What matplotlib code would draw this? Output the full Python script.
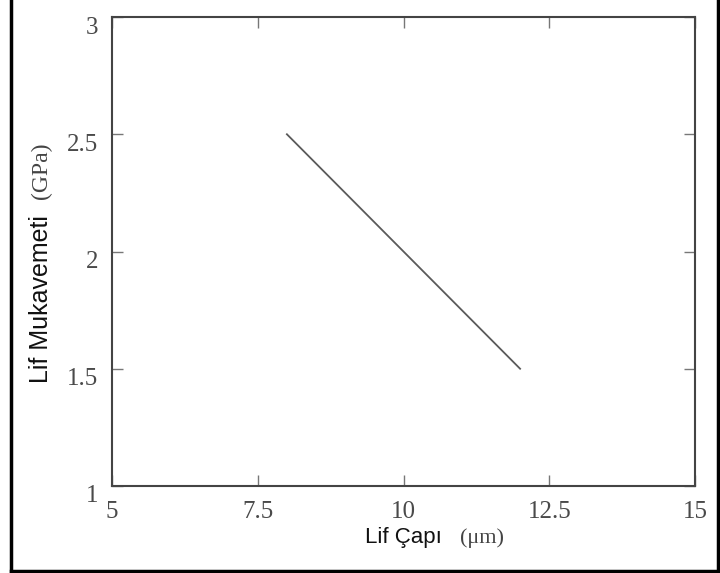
import matplotlib
matplotlib.use('Agg')
import matplotlib.pyplot as plt
import matplotlib.transforms as mtransforms
from matplotlib.lines import Line2D

# fiber diameter (um) vs fiber strength (GPa)
diameter = [8, 12]
strength = [2.5, 1.5]

xticks = [5, 7.5, 10, 12.5, 15]
xticklabels = ['5', '7.5', '10', '12.5', '15']
yticks = [1, 1.5, 2, 2.5, 3]
yticklabels = ['1', '1.5', '2', '2.5', '3']

serif = 'Liberation Serif'
sans = 'Liberation Sans'

fig = plt.figure(figsize=(7.2, 5.73), dpi=100)
ax = fig.add_axes([112/720, 1 - 486/573, (695 - 112)/720, (486 - 17)/573])

ax.plot(diameter, strength, color='#5a5a5a', lw=1.3)

ax.set_xlim(5, 15)
ax.set_ylim(1, 3)
ax.set_xticks(xticks)
ax.set_xticklabels(xticklabels)
ax.set_yticks(yticks)
ax.set_yticklabels(yticklabels)

ax.tick_params(direction='in', length=8, width=1, color='#777777',
               top=True, right=True, labelcolor='#4a4a4a', labelsize=18)
ax.tick_params(axis='x', pad=11)
ax.tick_params(axis='y', pad=10)
for lab in ax.get_xticklabels() + ax.get_yticklabels():
    lab.set_family(serif)
# y tick labels sit a bit below their ticks in the original
off = mtransforms.ScaledTranslation(0, -8/100, fig.dpi_scale_trans)
for lab in ax.get_yticklabels():
    lab.set_transform(lab.get_transform() + off)

for sp in ax.spines.values():
    sp.set_color('#444444')
    sp.set_linewidth(1.5)

# axis labels: sans name + serif unit
fig.text(442/720, 1 - 538/573, 'Lif Çapı', family=sans, fontsize=16,
         ha='right', va='center', color='#111111')
fig.text(460/720, 1 - 538/573, '(\u03bcm)', family=serif, fontsize=16,
         ha='left', va='center', color='#444444')

fig.text(41/720, 1 - 383/573, 'Lif Mukavemeti', family=sans, fontsize=18,
         rotation=90, ha='center', va='bottom', color='#111111')
fig.text(41/720, 1 - 199/573, '(GPa)', family=serif, fontsize=17,
         rotation=90, ha='center', va='bottom', color='#444444')

# outer frame
for xs, ys in [([11/720, 11/720], [0, 1]), ([718/720, 718/720], [0, 1]),
               ([11/720, 718/720], [1 - 571/573, 1 - 571/573])]:
    fig.add_artist(Line2D(xs, ys, color='black', lw=2.5, transform=fig.transFigure))

fig.savefig('out.png', dpi=100)
